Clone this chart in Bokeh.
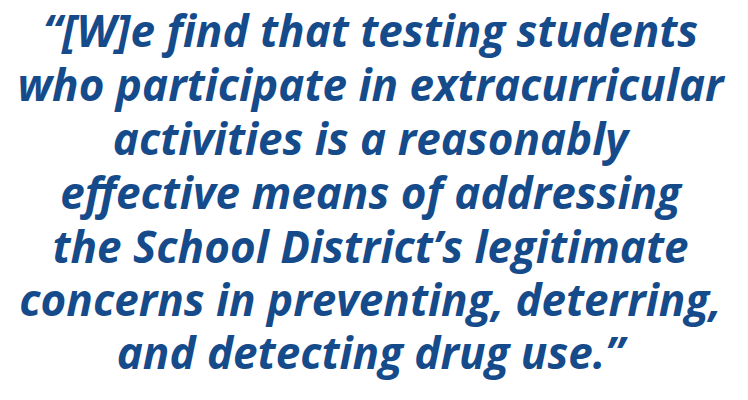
from bokeh.plotting import figure
from bokeh.models import ColumnDataSource
from bokeh.core.properties import value
from bokeh.embed import file_html
from bokeh.resources import INLINE

lines = [
    "\u201c[W]e find that testing students",
    "who participate in extracurricular",
    "activities is a reasonably",
    "effective means of addressing",
    "the School District\u2019s legitimate",
    "concerns in preventing, deterring,",
    "and detecting drug use.\u201d",
]
baselines_from_top = [29, 83, 137, 191, 245, 298, 351]

W, H = 732, 384
p = figure(width=W, height=H, x_range=(0, W), y_range=(0, H),
           output_backend="svg", toolbar_location=None, min_border=0)
p.axis.visible = False
p.grid.visible = False
p.outline_line_color = None

src = ColumnDataSource(dict(x=[W / 2 + 4] * len(lines),
                            y=[H - b for b in baselines_from_top],
                            t=lines))
p.text(x="x", y="y", text="t", source=src,
       text_font=value("Open Sans"), text_font_style="bold italic",
       text_font_size="44px", text_color="#154b8a",
       text_align="center", text_baseline="alphabetic")

open("out.html", "w").write(file_html(p, INLINE))
